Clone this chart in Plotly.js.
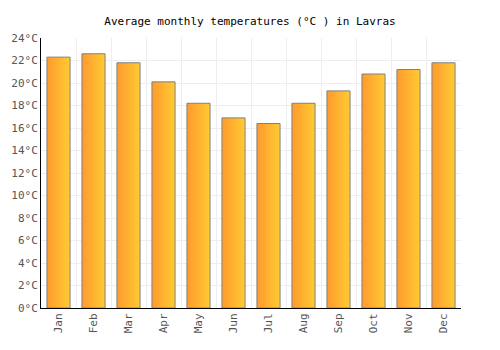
<!DOCTYPE html>
<html><head><meta charset="utf-8">
<script src="https://cdn.plot.ly/plotly-3.0.1.min.js"></script>
<style>body{margin:0;background:#fff}#c{width:500px;height:350px}</style>
</head><body><div id="c"></div>
<script>
const months = ["Jan","Feb","Mar","Apr","May","Jun","Jul","Aug","Sep","Oct","Nov","Dec"];
const temps = [22.3, 22.6, 21.8, 20.1, 18.2, 16.9, 16.4, 18.2, 19.3, 20.8, 21.2, 21.8];
const yTicks = [0,2,4,6,8,10,12,14,16,18,20,22,24];
const yTickText = yTicks.map(v => v + "°C");

const font = "DejaVu Sans Mono, monospace";
Plotly.newPlot("c", [{
  type: "bar", x: months, y: temps,
  marker: {color: "#FFB230", line: {color: "#808080", width: 1}},
  hoverinfo: "none"
}], {
  width: 500, height: 350,
  margin: {l: 41, r: 39, t: 38, b: 42},
  bargap: 0.34,
  paper_bgcolor: "#fff", plot_bgcolor: "#fff",
  title: {text: "Average monthly temperatures (°C ) in Lavras", font: {family: font, size: 11, color: "#000"}, x: 0.5, xanchor: "center", y: 0.94, yanchor: "middle"},
  xaxis: {type: "category", tickson: "boundaries", showgrid: true, gridcolor: "#eeeeee", gridwidth: 1,
    tickangle: -90, ticks: "", tickfont: {family: font, size: 11, color: "#555"},
    showline: true, linecolor: "#000", linewidth: 1, fixedrange: true},
  yaxis: {range: [0, 24], tickvals: yTicks, ticktext: yTickText, showgrid: true, gridcolor: "#eeeeee",
    tickfont: {family: font, size: 11, color: "#555"}, ticks: "", showline: true, linecolor: "#000", linewidth: 1,
    zeroline: false, fixedrange: true},
  showlegend: false
}, {displayModeBar: false, staticPlot: true}).then(gd => {
  const svg = gd.querySelector("svg.main-svg");
  const ns = "http://www.w3.org/2000/svg";
  let defs = svg.querySelector("defs");
  const g = document.createElementNS(ns, "linearGradient");
  g.setAttribute("id", "barGrad");
  g.setAttribute("x1", "0"); g.setAttribute("x2", "1"); g.setAttribute("y1", "0"); g.setAttribute("y2", "0");
  [["0", "#FF9A2E"], ["1", "#FFCB33"]].forEach(([o, c]) => {
    const s = document.createElementNS(ns, "stop");
    s.setAttribute("offset", o); s.setAttribute("stop-color", c);
    g.appendChild(s);
  });
  defs.appendChild(g);
  gd.querySelectorAll(".bars .point path").forEach(p => { p.style.fill = "url(#barGrad)"; });
});
</script></body></html>
